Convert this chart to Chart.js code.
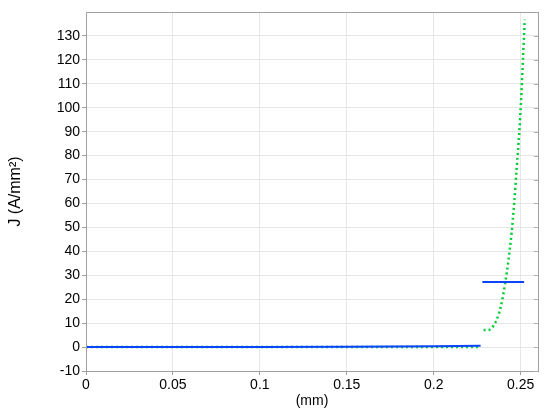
<!DOCTYPE html>
<html>
<head>
<meta charset="utf-8">
<script src="https://cdn.jsdelivr.net/npm/chart.js@4.4.1/dist/chart.umd.min.js"></script>
<style>
  html, body { margin: 0; padding: 0; background: #fff; }
  #wrap { width: 550px; height: 416px; }
</style>
</head>
<body>
<div id="wrap"><canvas id="c" width="550" height="416"></canvas></div>
<script>
// x positions (mm) and current density J (A/mm^2)
var blueX = [0, 0.05, 0.1, 0.15, 0.2, 0.227, null, 0.228, 0.252];
var blueY = [0, 0.02, 0.05, 0.15, 0.35, 0.6, null, 27.2, 27.2];

var greenX = [0, 0.05, 0.1, 0.15, 0.2, 0.227, null,
  0.2287, 0.2313, 0.2357, 0.2386, 0.2411, 0.2430, 0.2448, 0.2463, 0.2478, 0.2492, 0.2505, 0.2515, 0.2524];
var greenY = [0, 0, 0, 0, 0, 0, null,
  7.1, 7.1, 10.6, 16.9, 26.6, 36.4, 47.6, 60.1, 75.4, 89.4, 106.2, 122.9, 136.8];

var xTicks = [0, 0.05, 0.1, 0.15, 0.2, 0.25];
var yTicks = [-10, 0, 10, 20, 30, 40, 50, 60, 70, 80, 90, 100, 110, 120, 130];

var toPoints = function (xs, ys) {
  var pts = [];
  for (var i = 0; i < xs.length; i++) {
    pts.push(xs[i] === null ? { x: NaN, y: null } : { x: xs[i], y: ys[i] });
  }
  return pts;
};

// draw the box round the plot area
var frame = {
  id: 'frame',
  afterDraw: function (chart) {
    var a = chart.chartArea, ctx = chart.ctx;
    ctx.save();
    ctx.strokeStyle = '#a0a0a0';
    ctx.lineWidth = 1;
    ctx.strokeRect(a.left + 0.5, a.top + 0.5, a.right - a.left, a.bottom - a.top);
    // inner tick marks on the right side
    var y = chart.scales.y;
    ctx.strokeStyle = '#b0b0b0';
    for (var i = 0; i < yTicks.length; i++) {
      var py = Math.round(y.getPixelForValue(yTicks[i])) + 0.5;
      ctx.beginPath();
      ctx.moveTo(a.right - 4, py);
      ctx.lineTo(a.right, py);
      ctx.stroke();
    }
    ctx.restore();
  }
};

var font = { family: '"Liberation Sans", Arial, sans-serif', size: 14 };
var titleFont = { family: '"Liberation Sans", Arial, sans-serif', size: 16 };

new Chart(document.getElementById('c'), {
  type: 'line',
  data: {
    datasets: [{
      data: toPoints(blueX, blueY),
      borderColor: '#0a44ff',
      borderWidth: 2,
      pointRadius: 0,
      spanGaps: false,
      tension: 0
    }, {
      data: toPoints(greenX, greenY),
      borderColor: '#00cc33',
      borderWidth: 2.5,
      borderDash: [2, 3],
      pointRadius: 0,
      spanGaps: false,
      cubicInterpolationMode: 'monotone'
    }]
  },
  options: {
    responsive: false,
    animation: false,
    layout: { padding: { top: 12, right: 12, left: 0, bottom: 0 } },
    plugins: { legend: { display: false }, tooltip: { enabled: false } },
    scales: {
      x: {
        type: 'linear',
        min: 0,
        max: 0.26,
        afterBuildTicks: function (scale) {
          scale.ticks = xTicks.map(function (v) { return { value: v }; });
        },
        afterFit: function (scale) { scale.height = 45; },
        ticks: {
          color: '#000',
          font: font,
          padding: 2,
          maxRotation: 0,
          callback: function (v) { return String(+v.toFixed(2)); }
        },
        grid: { color: '#e6e6e6', tickLength: 4, tickColor: '#a0a0a0' },
        border: { color: '#a0a0a0' },
        title: {
          display: true,
          text: '(mm)',
          color: '#000',
          font: font,
          padding: { top: 0, bottom: 6 }
        }
      },
      y: {
        type: 'linear',
        min: -10,
        max: 140,
        afterBuildTicks: function (scale) {
          scale.ticks = yTicks.map(function (v) { return { value: v }; });
        },
        afterFit: function (scale) { scale.width = 86; },
        ticks: { color: '#000', font: font, padding: 2 },
        grid: { color: '#e6e6e6', tickLength: 4, tickColor: '#a0a0a0' },
        border: { color: '#a0a0a0' },
        title: {
          display: true,
          text: 'J (A/mm²)',
          color: '#000',
          font: titleFont,
          padding: { top: 6, bottom: 0 }
        }
      }
    }
  },
  plugins: [frame]
});
</script>
</body>
</html>
